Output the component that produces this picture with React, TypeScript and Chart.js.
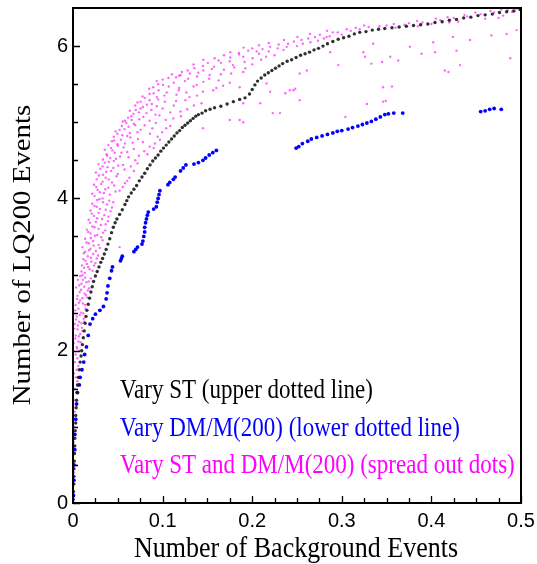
import React, { useEffect, useRef } from "react";
import { Chart, registerables } from "chart.js";

Chart.register(...registerables);

// ---- axis ticks ----
const xTickValues = [0, 0.1, 0.2, 0.3, 0.4, 0.5];
const xTickLabels = ["0", "0.1", "0.2", "0.3", "0.4", "0.5"];
const xMinorTicks = [0.025, 0.05, 0.075, 0.125, 0.15, 0.175, 0.225, 0.25, 0.275, 0.325, 0.35, 0.375, 0.425, 0.45, 0.475];
const yTickValues = [0, 2, 4, 6];
const yTickLabels = ["0", "2", "4", "6"];
const yMinorTicks = [0.5, 1, 1.5, 2.5, 3, 3.5, 4.5, 5, 5.5];

const xTitle = "Number of Background Events";
const yTitle = "Number of LQ200 Events";

const seriesLabels = [
  "Vary ST (upper dotted line)",
  "Vary DM/M(200) (lower dotted line)",
  "Vary ST and DM/M(200) (spread out dots)",
];

// ---- Vary ST (black, upper dotted line) ----
const stPoints: number[][] = [
  [0, 0.05], [0.0005, 0.15], [0.0005, 0.25], [0.001, 0.35], [0.001, 0.45], [0.0015, 0.55], [0.0015, 0.65],
  [0.002, 0.75], [0.002, 0.85], [0.0025, 0.95], [0.003, 1.05], [0.003, 1.15], [0.0035, 1.25], [0.004, 1.35],
  [0.0045, 1.45], [0.005, 1.55], [0.006, 1.65], [0.007, 1.75], [0.008, 1.85], [0.009, 1.93], [0.0097, 2.0],
  [0.0105, 2.08], [0.0115, 2.17], [0.0125, 2.26], [0.0135, 2.36], [0.0145, 2.45], [0.0155, 2.53], [0.017, 2.61],
  [0.0185, 2.69], [0.02, 2.77], [0.0215, 2.84], [0.023, 2.91], [0.025, 2.98], [0.027, 3.04],
  [0.029, 3.1], [0.031, 3.16], [0.033, 3.21], [0.035, 3.27], [0.037, 3.33], [0.039, 3.4], [0.041, 3.47],
  [0.043, 3.55], [0.045, 3.62], [0.047, 3.68], [0.049, 3.73], [0.052, 3.79], [0.055, 3.85], [0.058, 3.92],
  [0.06, 3.97], [0.062, 4.02],
  [0.065, 4.07], [0.068, 4.12], [0.071, 4.17], [0.074, 4.23], [0.077, 4.28], [0.08, 4.33], [0.083, 4.39],
  [0.086, 4.44], [0.089, 4.49], [0.092, 4.53], [0.095, 4.57], [0.098, 4.62], [0.101, 4.66], [0.104, 4.7],
  [0.107, 4.74], [0.11, 4.78], [0.113, 4.82], [0.116, 4.86], [0.119, 4.89], [0.122, 4.93], [0.125, 4.96],
  [0.128, 4.99],
  [0.131, 5.02], [0.134, 5.05], [0.137, 5.08], [0.14, 5.1], [0.144, 5.12], [0.148, 5.15], [0.153, 5.17],
  [0.158, 5.19], [0.165, 5.21], [0.172, 5.24], [0.179, 5.27], [0.186, 5.3], [0.192, 5.32],
  [0.197, 5.37], [0.2, 5.43], [0.203, 5.49], [0.206, 5.54], [0.21, 5.58], [0.214, 5.62], [0.218, 5.65],
  [0.222, 5.68], [0.226, 5.71], [0.23, 5.74], [0.234, 5.77], [0.239, 5.8], [0.244, 5.82], [0.249, 5.85],
  [0.254, 5.88], [0.259, 5.9], [0.264, 5.92], [0.269, 5.95], [0.274, 5.97], [0.279, 6.0],
  [0.284, 6.03], [0.29, 6.06], [0.296, 6.09], [0.302, 6.11], [0.308, 6.13], [0.314, 6.16], [0.32, 6.18],
  [0.327, 6.19], [0.334, 6.21], [0.341, 6.22], [0.348, 6.23], [0.356, 6.24], [0.364, 6.25], [0.372, 6.26],
  [0.38, 6.27], [0.388, 6.28], [0.396, 6.29], [0.404, 6.31], [0.412, 6.32], [0.42, 6.34], [0.428, 6.35],
  [0.436, 6.37], [0.444, 6.38], [0.452, 6.4], [0.46, 6.41], [0.468, 6.42], [0.476, 6.44], [0.484, 6.45],
  [0.492, 6.46], [0.499, 6.48],
];

// ---- Vary DM/M(200) (blue, lower dotted line) ----
const dmPoints: number[][] = [
  [0.0005, 0.1], [0.001, 0.3], [0.001, 0.5], [0.002, 0.7], [0.002, 0.9], [0.003, 1.1], [0.004, 1.3],
  [0.005, 1.45], [0.007, 1.55], [0.008, 1.65], [0.01, 1.75], [0.012, 1.85], [0.013, 1.95], [0.015, 2.05],
  [0.017, 2.2], [0.019, 2.35], [0.022, 2.42], [0.025, 2.48], [0.03, 2.53], [0.034, 2.58], [0.037, 2.68],
  [0.038, 2.76], [0.039, 2.85], [0.041, 2.95], [0.043, 3.05], [0.044, 3.1],
  [0.053, 3.18], [0.054, 3.21], [0.055, 3.24],
  [0.068, 3.3], [0.07, 3.33], [0.072, 3.36],
  [0.077, 3.4], [0.078, 3.44], [0.079, 3.5], [0.08, 3.56], [0.08, 3.62], [0.081, 3.68], [0.082, 3.73],
  [0.083, 3.78], [0.084, 3.82],
  [0.09, 3.86], [0.093, 3.89], [0.094, 3.95], [0.095, 4.0], [0.096, 4.05], [0.097, 4.1],
  [0.106, 4.18], [0.108, 4.21], [0.112, 4.25], [0.114, 4.28],
  [0.12, 4.36], [0.123, 4.4], [0.126, 4.44],
  [0.135, 4.45], [0.14, 4.47], [0.145, 4.5], [0.148, 4.53], [0.152, 4.57], [0.156, 4.6], [0.16, 4.63],
  [0.249, 4.66], [0.252, 4.68], [0.256, 4.72], [0.262, 4.75], [0.266, 4.78], [0.272, 4.8], [0.278, 4.82],
  [0.284, 4.84], [0.29, 4.86], [0.295, 4.88], [0.3, 4.89], [0.307, 4.91], [0.312, 4.93], [0.318, 4.95],
  [0.323, 4.97], [0.328, 4.99], [0.333, 5.01], [0.338, 5.04], [0.343, 5.07], [0.348, 5.1], [0.352, 5.11],
  [0.358, 5.12], [0.368, 5.12],
  [0.455, 5.14], [0.46, 5.15], [0.465, 5.17], [0.47, 5.18], [0.478, 5.17],
];

// ---- Vary ST and DM/M(200) (magenta, spread out dots) ----
const bothPoints: number[][] = [
  [0.001, 0.1], [0.002, 0.25], [0.001, 0.4], [0.003, 0.5], [0.002, 0.65], [0.001, 0.8], [0.003, 0.9],
  [0.002, 1.0], [0.004, 1.1], [0.002, 1.2], [0.003, 1.3], [0.001, 1.35], [0.004, 1.45], [0.002, 1.5],
  [0.005, 1.6], [0.003, 1.65], [0.001, 1.7], [0.004, 1.75], [0.006, 1.8], [0.002, 1.85], [0.005, 1.9],
  [0.003, 1.95], [0.007, 2.0], [0.004, 2.05], [0.001, 2.1], [0.006, 2.12],
  [0.003, 2.2], [0.008, 2.22], [0.005, 2.28], [0.01, 2.3], [0.002, 2.35], [0.007, 2.38], [0.012, 2.42],
  [0.004, 2.45], [0.009, 2.5], [0.006, 2.55], [0.014, 2.55], [0.003, 2.6], [0.011, 2.62], [0.008, 2.66],
  [0.016, 2.7], [0.005, 2.72], [0.013, 2.75], [0.009, 2.8], [0.018, 2.82], [0.007, 2.86], [0.015, 2.9],
  [0.011, 2.93], [0.02, 2.95], [0.008, 2.98],
  [0.013, 3.02], [0.022, 3.05], [0.017, 3.1], [0.01, 3.12], [0.025, 3.15], [0.014, 3.18], [0.02, 3.22],
  [0.028, 3.25], [0.012, 3.28], [0.018, 3.32], [0.03, 3.35], [0.023, 3.38], [0.015, 3.42], [0.033, 3.45],
  [0.02, 3.48], [0.027, 3.52], [0.017, 3.56], [0.036, 3.58], [0.024, 3.62], [0.031, 3.65], [0.019, 3.68],
  [0.039, 3.7], [0.027, 3.74], [0.035, 3.78], [0.021, 3.8], [0.042, 3.83], [0.03, 3.86], [0.024, 3.9],
  [0.038, 3.92], [0.045, 3.95], [0.027, 3.98], [0.033, 4.0], [0.052, 3.36], [0.045, 3.1],
  [0.024, 4.03], [0.041, 4.05], [0.03, 4.08], [0.052, 4.1], [0.036, 4.12], [0.026, 4.15], [0.046, 4.17],
  [0.058, 4.2], [0.033, 4.22], [0.04, 4.25], [0.063, 4.27], [0.029, 4.3], [0.05, 4.32], [0.037, 4.35],
  [0.068, 4.36], [0.045, 4.4], [0.033, 4.42], [0.056, 4.44], [0.072, 4.46], [0.04, 4.48],
  [0.048, 4.52], [0.062, 4.54], [0.038, 4.56], [0.083, 4.58], [0.054, 4.6], [0.044, 4.63], [0.068, 4.65],
  [0.09, 4.66], [0.05, 4.69], [0.058, 4.72], [0.078, 4.74], [0.046, 4.76], [0.097, 4.77], [0.064, 4.8],
  [0.055, 4.83], [0.086, 4.85], [0.072, 4.87], [0.052, 4.9], [0.104, 4.92], [0.062, 4.94], [0.08, 4.96],
  [0.068, 4.98],
  [0.058, 5.02], [0.074, 5.04], [0.112, 5.05], [0.065, 5.08], [0.092, 5.1], [0.082, 5.12], [0.12, 5.14],
  [0.07, 5.16], [0.1, 5.18], [0.078, 5.2], [0.135, 5.22], [0.088, 5.24], [0.072, 5.26], [0.115, 5.28],
  [0.095, 5.3],
  [0.08, 5.32], [0.13, 5.33], [0.102, 5.35], [0.09, 5.38], [0.145, 5.4], [0.118, 5.42], [0.085, 5.44],
  [0.16, 5.45], [0.107, 5.47], [0.138, 5.49], [0.095, 5.5], [0.175, 5.52], [0.125, 5.54], [0.1, 5.56],
  [0.152, 5.57], [0.115, 5.59],
  [0.12, 5.62], [0.165, 5.63], [0.14, 5.65], [0.19, 5.66], [0.128, 5.68], [0.155, 5.7], [0.18, 5.72],
  [0.145, 5.74], [0.2, 5.76], [0.165, 5.78], [0.175, 5.8], [0.21, 5.82], [0.158, 5.84], [0.19, 5.86],
  [0.225, 5.88],
  [0.185, 5.91], [0.205, 5.93], [0.235, 5.95], [0.2, 5.97], [0.22, 5.99], [0.25, 6.0], [0.24, 6.03],
  [0.265, 6.05], [0.255, 6.08], [0.28, 6.1], [0.27, 6.12], [0.3, 6.15], [0.29, 6.18], [0.31, 6.2],
  [0.33, 6.25], [0.35, 6.27], [0.37, 6.28], [0.39, 6.31], [0.41, 6.34], [0.425, 6.37], [0.44, 6.39],
  [0.455, 6.42], [0.47, 6.44], [0.485, 6.47], [0.495, 6.49], [0.32, 6.22], [0.36, 6.24], [0.4, 6.29],
  [0.43, 6.32], [0.46, 6.36], [0.48, 6.4],
  [0.145, 4.92], [0.175, 5.03], [0.186, 5.03], [0.19, 5.25], [0.223, 5.12], [0.22, 5.4], [0.216, 5.51],
  [0.242, 5.42], [0.253, 5.29], [0.237, 5.38], [0.248, 5.44], [0.261, 5.68], [0.287, 5.92], [0.296, 5.75],
  [0.304, 5.07], [0.324, 5.92], [0.326, 5.86], [0.333, 5.77], [0.345, 5.79], [0.354, 5.86], [0.363, 5.81],
  [0.376, 5.99], [0.389, 5.9], [0.404, 5.92], [0.415, 5.68], [0.419, 5.66], [0.356, 5.47], [0.346, 5.46],
  [0.346, 5.27], [0.349, 5.28], [0.328, 5.24], [0.428, 5.94], [0.488, 5.84], [0.432, 5.75], [0.484, 6.16],
  [0.467, 6.14], [0.443, 6.08], [0.495, 6.21], [0.424, 6.12], [0.402, 6.05], [0.335, 6.03], [0.283, 6.12],
  [0.186, 5.46], [0.209, 5.25], [0.19, 5.0], [0.231, 5.12], [0.246, 5.42], [0.253, 5.64],
];

// more magenta dots
const bothPointsDense: number[][] = [
  [0.0045, 2.03], [0.0085, 2.11], [0.0025, 2.16], [0.0065, 2.19], [0.0105, 2.26], [0.0015, 2.29], [0.0055, 2.33],
  [0.0095, 2.36], [0.0125, 2.38], [0.0035, 2.41], [0.0075, 2.47], [0.0115, 2.49], [0.0025, 2.53], [0.0135, 2.6],
  [0.0065, 2.63], [0.0045, 2.68], [0.0105, 2.69], [0.0145, 2.73], [0.0075, 2.77], [0.0165, 2.79], [0.0035, 2.83],
  [0.0125, 2.84], [0.0095, 2.88], [0.0175, 2.91], [0.0055, 2.93], [0.0135, 2.96], [0.0105, 2.99],
  [0.0095, 3.04], [0.0185, 3.07], [0.0125, 3.09], [0.0235, 3.12], [0.0155, 3.14], [0.0205, 3.17], [0.0115, 3.2],
  [0.0265, 3.21], [0.0165, 3.24], [0.0225, 3.27], [0.0135, 3.3], [0.0255, 3.31], [0.0195, 3.34], [0.0105, 3.36],
  [0.0285, 3.39], [0.0175, 3.41], [0.0225, 3.44], [0.0135, 3.47], [0.0315, 3.49], [0.0245, 3.51], [0.0195, 3.54],
  [0.0335, 3.55], [0.0155, 3.59], [0.0285, 3.6], [0.0215, 3.63], [0.0365, 3.66], [0.0255, 3.69], [0.0175, 3.72],
  [0.0325, 3.73], [0.0395, 3.76], [0.0235, 3.77], [0.0285, 3.81], [0.0195, 3.84], [0.0365, 3.85], [0.0435, 3.88],
  [0.0265, 3.89], [0.0215, 3.93], [0.0335, 3.95], [0.0405, 3.97], [0.0295, 3.99],
  [0.0215, 4.06], [0.0345, 4.07], [0.0475, 4.09], [0.0275, 4.11], [0.0395, 4.14], [0.0555, 4.15], [0.0235, 4.18],
  [0.0315, 4.19], [0.0435, 4.21], [0.0605, 4.23], [0.0265, 4.25], [0.0365, 4.27], [0.0485, 4.29], [0.0335, 4.31],
  [0.0255, 4.34], [0.0425, 4.36], [0.0575, 4.38], [0.0305, 4.39], [0.0385, 4.41], [0.0645, 4.42], [0.0505, 4.43],
  [0.0285, 4.45], [0.0355, 4.47], [0.0455, 4.49], [0.0695, 4.5],
  [0.0335, 4.51], [0.0415, 4.53], [0.0525, 4.55], [0.0735, 4.56], [0.0375, 4.58], [0.0465, 4.6], [0.0605, 4.61],
  [0.0795, 4.62], [0.0355, 4.64], [0.0425, 4.66], [0.0565, 4.67], [0.0855, 4.68], [0.0395, 4.7], [0.0495, 4.71],
  [0.0665, 4.73], [0.0915, 4.72], [0.0435, 4.75], [0.0535, 4.77], [0.0725, 4.78], [0.0455, 4.81], [0.0605, 4.82],
  [0.0945, 4.81], [0.0495, 4.85], [0.0635, 4.86], [0.0995, 4.87], [0.0475, 4.88], [0.0575, 4.91], [0.0755, 4.9],
  [0.0885, 4.92], [0.0545, 4.95], [0.0695, 4.96], [0.1085, 4.95], [0.0595, 4.99], [0.0925, 4.99],
  [0.0555, 5.01], [0.0655, 5.03], [0.0855, 5.02], [0.1035, 5.03], [0.0615, 5.06], [0.0785, 5.07], [0.1205, 5.08],
  [0.0965, 5.09], [0.0675, 5.11], [0.0735, 5.13], [0.1085, 5.13], [0.0635, 5.15], [0.0875, 5.16], [0.1275, 5.17],
  [0.0755, 5.18], [0.0935, 5.21], [0.0695, 5.22], [0.1125, 5.22], [0.0825, 5.23], [0.1435, 5.25], [0.0755, 5.27],
  [0.1025, 5.27], [0.1255, 5.29], [0.0855, 5.29],
  [0.0775, 5.34], [0.0935, 5.33], [0.1155, 5.36], [0.1385, 5.35], [0.0855, 5.37], [0.1045, 5.39], [0.1265, 5.39],
  [0.0955, 5.42], [0.1565, 5.42], [0.0895, 5.46], [0.1185, 5.45], [0.1345, 5.47], [0.1005, 5.49], [0.1675, 5.48],
  [0.1125, 5.52], [0.1455, 5.53], [0.0935, 5.54], [0.1065, 5.58], [0.1285, 5.57], [0.1625, 5.55], [0.1385, 5.6],
  [0.1185, 5.61],
  [0.1105, 5.63], [0.1305, 5.64], [0.1525, 5.62], [0.1765, 5.64], [0.1215, 5.66], [0.1455, 5.68], [0.1685, 5.69],
  [0.1355, 5.71], [0.1925, 5.71], [0.1575, 5.73], [0.1345, 5.76], [0.1785, 5.75], [0.1505, 5.78], [0.1915, 5.79],
  [0.1625, 5.81], [0.1455, 5.82], [0.2005, 5.84], [0.1755, 5.85], [0.2155, 5.86], [0.1685, 5.88], [0.1855, 5.89],
  [0.2075, 5.9],
  [0.1755, 5.92], [0.1955, 5.94], [0.2185, 5.93], [0.2115, 5.96], [0.2285, 5.97], [0.1905, 5.98], [0.2385, 5.99],
  [0.2075, 6.01], [0.2295, 6.02], [0.2565, 6.03], [0.2185, 6.04], [0.2465, 6.06], [0.2735, 6.07], [0.2355, 6.08],
  [0.2625, 6.1], [0.2505, 6.12], [0.2865, 6.13], [0.2755, 6.15], [0.2645, 6.16], [0.2955, 6.18], [0.2835, 6.2],
  [0.3055, 6.22], [0.3155, 6.24],
  [0.325, 6.27], [0.342, 6.26], [0.358, 6.29], [0.375, 6.3], [0.384, 6.33], [0.405, 6.36], [0.418, 6.38],
  [0.437, 6.41], [0.449, 6.44], [0.466, 6.46], [0.478, 6.48], [0.49, 6.45], [0.385, 6.26], [0.42, 6.31],
  [0.475, 6.37],
];

const seriesColors = ["#1a1a1a", "#0000ff", "#ff00ff"];

const toXY = (arr: number[][]) => arr.map((p) => ({ x: p[0], y: p[1] }));

const decorPlugin = {
  id: "decor",
  afterDatasetsDraw(chart: any) {
    const { ctx, chartArea: a, scales } = chart;
    const xs = scales.x;
    const ys = scales.y;
    ctx.save();
    ctx.strokeStyle = "#000";
    ctx.lineWidth = 1.3;
    ctx.beginPath();
    xTickValues.forEach((v) => {
      const px = Math.round(xs.getPixelForValue(v)) + 0.5;
      ctx.moveTo(px, a.bottom);
      ctx.lineTo(px, a.bottom - 7);
    });
    xMinorTicks.forEach((v) => {
      const px = Math.round(xs.getPixelForValue(v)) + 0.5;
      ctx.moveTo(px, a.bottom);
      ctx.lineTo(px, a.bottom - 5);
    });
    yTickValues.forEach((v) => {
      const py = Math.round(ys.getPixelForValue(v)) + 0.5;
      ctx.moveTo(a.left, py);
      ctx.lineTo(a.left + 7, py);
    });
    yMinorTicks.forEach((v) => {
      const py = Math.round(ys.getPixelForValue(v)) + 0.5;
      ctx.moveTo(a.left, py);
      ctx.lineTo(a.left + 5, py);
    });
    ctx.stroke();
    ctx.lineWidth = 2;
    ctx.strokeRect(a.left, a.top, a.right - a.left, a.bottom - a.top);

    // legend texts (one per series)
    const baselines = [398, 436, 473];
    ctx.font = '23px "Liberation Serif"';
    ctx.textAlign = "left";
    ctx.textBaseline = "alphabetic";
    seriesLabels.forEach((label, i) => {
      ctx.save();
      ctx.translate(120, baselines[i]);
      ctx.scale(1, 1.17);
      ctx.fillStyle = i === 0 ? "#000" : seriesColors[i];
      ctx.fillText(label, 0, 0);
      ctx.restore();
    });

    // axis titles
    ctx.fillStyle = "#000";
    ctx.font = '26px "Liberation Serif"';
    ctx.textAlign = "center";
    ctx.save();
    ctx.translate((a.left + a.right) / 2 - 1, 556.5);
    ctx.scale(1, 1.12);
    ctx.fillText(xTitle, 0, 0);
    ctx.restore();

    ctx.save();
    ctx.translate(29.5, 255);
    ctx.rotate(-Math.PI / 2);
    ctx.scale(1.11, 1);
    ctx.fillText(yTitle, 0, 0);
    ctx.restore();

    ctx.restore();
  },
};

export default function App() {
  const ref = useRef<HTMLCanvasElement | null>(null);
  useEffect(() => {
    if (!ref.current) return;
    const tickFont = { family: '"Liberation Sans", Arial, sans-serif', size: 20 };
    const magenta = "rgba(255,0,255,0.6)";
    const chart = new Chart(ref.current, {
      type: "scatter",
      data: {
        datasets: [
          {
            label: seriesLabels[0],
            data: toXY(stPoints),
            backgroundColor: "rgba(25,25,25,0.9)",
            borderWidth: 0,
            pointRadius: 1.7,
            order: 1,
          },
          {
            label: seriesLabels[1],
            data: toXY(dmPoints),
            backgroundColor: "#0000ff",
            borderWidth: 0,
            pointRadius: 1.9,
            order: 2,
          },
          {
            label: seriesLabels[2],
            data: toXY(bothPoints),
            backgroundColor: magenta,
            borderWidth: 0,
            pointRadius: 1.2,
            order: 3,
          },
          {
            label: seriesLabels[2] + " ",
            data: toXY(bothPointsDense),
            backgroundColor: magenta,
            borderWidth: 0,
            pointRadius: 1.2,
            order: 4,
          },
        ],
      },
      options: {
        animation: false,
        responsive: false,
        devicePixelRatio: 1,
        layout: { padding: { left: 0, top: 8, right: 16, bottom: 0 } },
        plugins: { legend: { display: false }, tooltip: { enabled: false }, title: { display: false } },
        scales: {
          x: {
            type: "linear",
            position: "bottom",
            min: 0,
            max: 0.5,
            grid: { display: false, drawTicks: false },
            border: { display: false },
            ticks: {
              font: tickFont,
              color: "#000",
              padding: 6,
              autoSkip: false,
              maxRotation: 0,
              callback: (v: any) => {
                const i = xTickValues.findIndex((t) => Math.abs(t - v) < 1e-9);
                return i >= 0 ? xTickLabels[i] : "";
              },
            },
            afterBuildTicks: (s: any) => {
              s.ticks = xTickValues.map((v) => ({ value: v }));
            },
            afterFit: (s: any) => {
              s.height = 61;
              s.paddingLeft = 0;
              s.paddingRight = 0;
            },
          },
          y: {
            type: "linear",
            position: "left",
            min: 0,
            max: 6.5,
            grid: { display: false, drawTicks: false },
            border: { display: false },
            ticks: {
              font: tickFont,
              color: "#000",
              padding: 5,
              autoSkip: false,
              callback: (v: any) => {
                const i = yTickValues.findIndex((t) => Math.abs(t - v) < 1e-9);
                return i >= 0 ? yTickLabels[i] : "";
              },
            },
            afterBuildTicks: (s: any) => {
              s.ticks = yTickValues.map((v) => ({ value: v }));
            },
            afterFit: (s: any) => {
              s.width = 73;
              s.paddingTop = 0;
              s.paddingBottom = 0;
            },
          },
        },
      },
      plugins: [decorPlugin],
    });
    return () => chart.destroy();
  }, []);

  return (
    <div style={{ position: "fixed", left: 0, top: 0, width: 537, height: 564, background: "#fff" }}>
      <canvas ref={ref} width={537} height={564} style={{ display: "block", width: 537, height: 564 }} />
    </div>
  );
}
